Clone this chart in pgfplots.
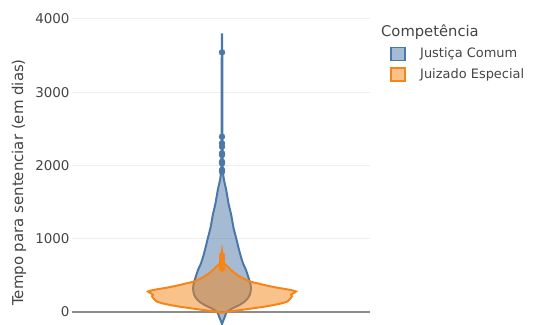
\documentclass[border=0pt]{standalone}
\usepackage{pgfplots}
\pgfplotsset{compat=1.18}
\usepackage{fontspec}
\setmainfont{DejaVu Sans}

\definecolor{comum}{HTML}{4C78A8}
\definecolor{especial}{HTML}{F58518}
\definecolor{txt}{HTML}{444444}
\definecolor{gridc}{HTML}{EEEEEE}
\definecolor{zeroc}{HTML}{8C8C8C}

\begin{document}
\begin{tikzpicture}[x=1bp,y=1bp]
\path[use as bounding box] (0,0) rectangle (534,324);
\begin{axis}[
  at={(72bp,0bp)}, anchor=south west,
  scale only axis, width=298bp, height=310bp,
  xmin=-150, xmax=148, ymin=-164, ymax=4068,
  axis line style={draw=none},
  xtick=\empty,
  ytick={1000,2000,3000,4000},
  extra y ticks={0},
  extra y tick labels={0},
  extra y tick style={grid style={zeroc, line width=1.6bp}},
  major tick length=0pt,
  ymajorgrids,
  grid style={gridc, line width=1bp},
  yticklabel style={font=\fontsize{13.5}{16}\selectfont, text=txt, xshift=1bp},
  /pgf/number format/assume math mode=true,
  /pgf/number format/1000 sep={},
  clip=true,
]
% Justiça Comum: violin outline (half-width in px, value in days)
\addplot[draw=comum, line width=2bp, fill=comum, fill opacity=0.5, smooth, tension=0.35]
 coordinates {
 (0,-164) (1.5,-109) (3,-60) (4,-18) (7.5,27) (12,60) (17.5,96) (22.5,140)
 (25.8,187) (28,240) (28.8,300) (28.7,360) (27.8,414) (26,490) (24,573)
 (21,665) (19,750) (17,850) (14.2,1006) (11.5,1150) (9.2,1324) (6.5,1484)
 (4.2,1666) (2,1800) (1,1900) (0.6,2000) (0.4,2500) (0.3,3000) (0.25,3500) (0,3804)
 (-0.25,3500) (-0.3,3000) (-0.4,2500) (-0.6,2000) (-1,1900) (-2,1800) (-4.2,1666)
 (-6.5,1484) (-9.2,1324) (-11.5,1150) (-14.2,1006) (-17,850) (-19,750) (-21,665)
 (-24,573) (-26,490) (-27.8,414) (-28.7,360) (-28.8,300) (-28,240) (-25.8,187)
 (-22.5,140) (-17.5,96) (-12,60) (-7.5,27) (-4,-18) (-3,-60) (-1.5,-109) (0,-164)
 } -- cycle;
% Justiça Comum: outliers
\addplot[only marks, mark=*, mark size=3bp, comum, mark options={draw=comum, fill=comum}]
 coordinates {
 (0,1916) (0,1939) (0,2030) (0,2052) (0,2143) (0,2166) (0,2257) (0,2303) (0,2393) (0,3544)
 };
% Juizado Especial: violin outline
\addplot[draw=especial, line width=2bp, fill=especial, fill opacity=0.5, smooth, tension=0.35]
 coordinates {
 (0,-12) (9,10) (24,37) (41,70) (52,96) (60,120) (65,141) (67.5,170) (69,195)
 (70,215) (69,235) (71,255) (74,280) (67,305) (56,330) (45,360) (36,390)
 (28.5,414) (19.5,470) (13,528) (8.5,580) (5.5,620) (2.5,660) (1.2,700) (0.5,760) (0,840)
 (-0.5,760) (-1.2,700) (-2.5,660) (-5.5,620) (-8.5,580) (-13,528) (-19.5,470)
 (-28.5,414) (-36,390) (-45,360) (-56,330) (-67,305) (-74,280) (-71,255) (-69,235)
 (-70,215) (-69,195) (-67.5,170) (-65,141) (-60,120) (-52,96) (-41,70) (-24,37) (-9,10) (0,-12)
 } -- cycle;
% Juizado Especial: outliers
\addplot[only marks, mark=*, mark size=2.8bp, especial, mark options={draw=especial, fill=especial}]
 coordinates {
 (0,590) (0,615) (0,640) (0,665) (0,690) (0,715) (0,745) (0,775)
 };
\end{axis}

% axis title
\node[rotate=90, text=txt, font=\fontsize{15}{18}\selectfont] at (19,141.5) {Tempo para sentenciar (em dias)};

% legend
\node[anchor=west, text=txt, font=\fontsize{14.8}{17}\selectfont, inner sep=0pt] at (381,292) {Competência};
\draw[comum, line width=1.6bp, fill=comum, fill opacity=0.5] (391,263.5) rectangle (405,276.5);
\draw[especial, line width=1.6bp, fill=especial, fill opacity=0.5] (391,243) rectangle (405,256);
\node[anchor=west, text=txt, font=\fontsize{13}{15}\selectfont, inner sep=0pt] at (420,270) {Justiça Comum};
\node[anchor=west, text=txt, font=\fontsize{13}{15}\selectfont, inner sep=0pt] at (420,249.5) {Juizado Especial};
\end{tikzpicture}
\end{document}
